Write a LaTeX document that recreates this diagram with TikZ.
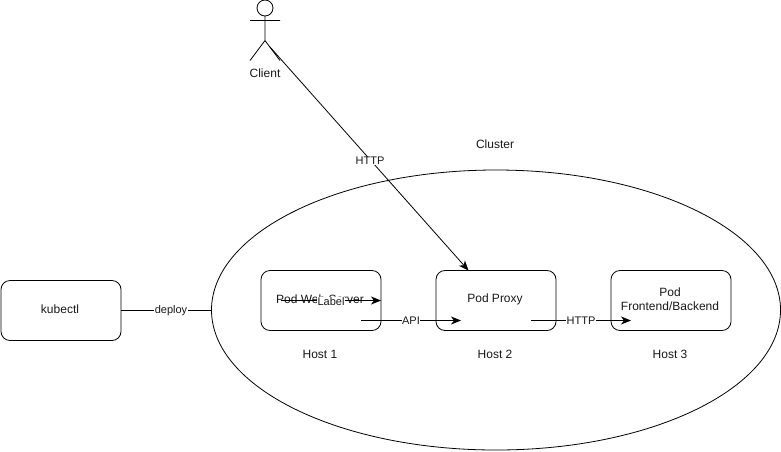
\documentclass[tikz,border=0pt]{standalone}
\usepackage{fontspec}
\setmainfont{Liberation Sans}
\usetikzlibrary{arrows.meta,shapes.geometric}
\tikzset{
  every node/.style={font=\fontsize{12}{14}\selectfont, align=center, text=black!90},
  ln/.style={line width=0.8pt, draw=black},
  boxn/.style={ln, rounded corners=9pt, minimum width=120pt, minimum height=60pt, inner sep=0pt},
  plain/.style={inner sep=0pt},
  lab/.style={fill=white, inner sep=0.5pt, font=\fontsize{11}{13}\selectfont},
  arr/.style={ln, -{Stealth[length=10pt,width=8pt,inset=3pt]}},
}
\begin{document}
\begin{tikzpicture}[x=1pt,y=-1pt]
\useasboundingbox (0,0) rectangle (781,451);
\fill[white] (0,0) rectangle (781,451);
% cluster
\node[ln, shape=ellipse, minimum width=569pt, minimum height=280pt, inner sep=0pt] (cluster) at (496,310) {};
\node[plain] (clusterlab) at (495,144) {Cluster};
% boxes
\node[boxn] (kubectl) at (61,310.5) {};
\node[plain] (kubectllab) at (60,309.5) {kubectl};
\node[boxn] (web) at (321,300.5) {};
\node[plain] (weblab) at (320,299.5) {Pod Web Server};
\node[boxn] (proxy) at (496,300.5) {};
\node[plain] (proxylab) at (495,299) {Pod Proxy};
\node[boxn] (front) at (671,300.5) {};
\node[plain] (frontlab) at (670,299) {Pod\\[-0.5pt]Frontend/Backend};
\node[plain] (h1) at (320,354) {Host 1};
\node[plain] (h2) at (495,354) {Host 2};
\node[plain] (h3) at (670,354) {Host 3};
% actor
\node[ln, circle, minimum size=16pt, inner sep=0pt] (head) at (265,8) {};
\coordinate (neck) at (265,16);
\coordinate (hip) at (265,40.5);
\coordinate (armL) at (250,20.5);
\coordinate (armR) at (280,20.5);
\coordinate (legL) at (250,60.5);
\coordinate (legR) at (280,60.5);
\draw[ln] (neck) -- (hip) (armL) -- (armR) (legL) -- (hip) -- (legR);
\node[plain] (client) at (265,73) {Client};
% connectors
\coordinate (cs) at (270,47);
\coordinate (ce) at (468.5,270.5);
\draw[arr] (cs) -- (ce);
\node[lab] (httpa) at (370,161) {HTTP};
\draw[ln] (kubectl.east |- 0,310.5) -- (211,310.5);
\node[lab] (deploy) at (171,310.5) {deploy};
\coordinate (ls) at (281,300.5);
\coordinate (le) at (381,300.5);
\draw[arr] (ls) -- (le);
\node[lab,inner ysep=0pt] (label) at (331,301.5) {Label};
\coordinate (as) at (361,320.5);
\coordinate (ae) at (461,320.5);
\draw[arr] (as) -- (ae);
\node[lab] (api) at (411,320.5) {API};
\coordinate (hs) at (531,320.5);
\coordinate (he) at (631,320.5);
\draw[arr] (hs) -- (he);
\node[lab] (httpb) at (581,320.5) {HTTP};
\end{tikzpicture}
\end{document}
